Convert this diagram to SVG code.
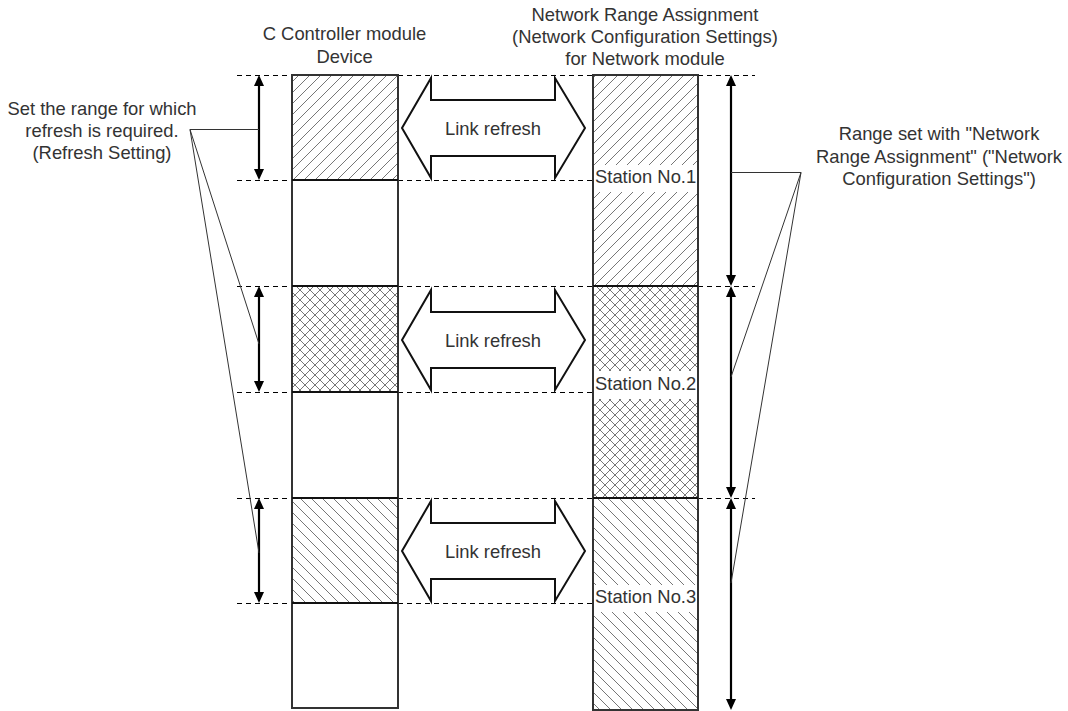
<svg xmlns="http://www.w3.org/2000/svg" width="1068" height="711" viewBox="0 0 1068 711">
<style>
text{font-family:"Liberation Sans",Arial,sans-serif;font-size:18.4px;fill:#333}
.c{text-anchor:middle}
.dash{stroke:#000;stroke-width:1;stroke-dasharray:5 4;fill:none}
.col{fill:none;stroke:#333;stroke-width:2}
.div{stroke:#111;stroke-width:2.2}
.dim{stroke:#000;stroke-width:2.2;fill:none;marker-start:url(#ah);marker-end:url(#ah)}
.lead{stroke:#333;stroke-width:1;fill:none}
.big{fill:#fff;stroke:#111;stroke-width:2;stroke-linejoin:miter}
.hl{stroke:#777;stroke-width:1;fill:none}
</style>
<defs>
<marker id="ah" viewBox="0 0 11 10" markerWidth="11" markerHeight="10" refX="3" refY="5" markerUnits="userSpaceOnUse" orient="auto-start-reverse">
<path d="M0,0 L11,5 L0,10 Z" fill="#000"/>
</marker>
<pattern id="hatchF" patternUnits="userSpaceOnUse" width="11" height="11">
<path class="hl" d="M-1,12 L12,-1 M-6,6 L6,-6 M5,17 L17,5"/>
</pattern>
<pattern id="hatchB" patternUnits="userSpaceOnUse" width="11" height="11">
<path class="hl" d="M-1,-1 L12,12 M5,-6 L17,6 M-6,5 L6,17"/>
</pattern>
<pattern id="hatchX" patternUnits="userSpaceOnUse" width="10" height="10">
<path class="hl" d="M-1,11 L11,-1 M-6,6 L6,-6 M4,16 L16,4 M-1,-1 L11,11 M4,-6 L16,6 M-6,4 L6,16"/>
</pattern>
</defs>

<g id="guides">
<path class="dash" d="M237,75.5 H292 M398,75.5 H593 M698,75.5 H755"/>
<path class="dash" d="M237,180.5 H292 M398,180.5 H593"/>
<path class="dash" d="M237,286.5 H292 M398,286.5 H593 M698,286.5 H755"/>
<path class="dash" d="M237,392.5 H292 M398,392.5 H593"/>
<path class="dash" d="M237,498.5 H292 M398,498.5 H593 M698,498.5 H755"/>
<path class="dash" d="M237,603.5 H292 M398,603.5 H593"/>
</g>

<g id="titles">
<text class="c" x="344.5" y="40">C Controller module</text>
<text class="c" x="344.5" y="63">Device</text>
<text class="c" x="645" y="21">Network Range Assignment</text>
<text class="c" x="645" y="43">(Network Configuration Settings)</text>
<text class="c" x="645" y="65">for Network module</text>
</g>

<g id="device-column">
<rect x="292" y="75" width="106" height="105" fill="url(#hatchF)"/>
<rect x="292" y="286" width="106" height="106" fill="url(#hatchX)"/>
<rect x="292" y="498" width="106" height="105" fill="url(#hatchB)"/>
<rect class="col" x="292" y="75" width="106" height="633"/>
<path class="div" d="M292,180 H398 M292,286 H398 M292,392 H398 M292,498 H398 M292,603 H398"/>
</g>

<g id="network-column">
<rect x="593" y="75" width="105" height="211" fill="url(#hatchF)"/>
<rect x="593" y="286" width="105" height="212" fill="url(#hatchX)"/>
<rect x="593" y="498" width="105" height="212" fill="url(#hatchB)"/>
<rect x="594" y="165" width="103" height="27" fill="#fff"/>
<rect x="594" y="371" width="103" height="28" fill="#fff"/>
<rect x="594" y="585" width="103" height="27" fill="#fff"/>
<rect class="col" x="593" y="75" width="105" height="635"/>
<path class="div" d="M593,286 H698 M593,498 H698"/>
<text x="595" y="183">Station No.1</text>
<text x="595" y="390">Station No.2</text>
<text x="595" y="603">Station No.3</text>
</g>

<g id="link-refresh-1">
<polygon class="big" points="402,128 431,78 431,100 555,100 555,78 585,128 555,178 555,156 431,156 431,178"/>
<text class="c" x="493" y="135">Link refresh</text>
</g>
<g id="link-refresh-2">
<polygon class="big" points="402,340 431,290 431,312 555,312 555,290 585,340 555,390 555,368 431,368 431,390"/>
<text class="c" x="493" y="347">Link refresh</text>
</g>
<g id="link-refresh-3">
<polygon class="big" points="402,551 431,501 431,523 555,523 555,501 585,551 555,601 555,579 431,579 431,601"/>
<text class="c" x="493" y="558">Link refresh</text>
</g>

<g id="note-refresh">
<text class="c" x="102" y="115">Set the range for which</text>
<text class="c" x="102" y="137">refresh is required.</text>
<text class="c" x="102" y="159">(Refresh Setting)</text>
</g>
<g id="note-range">
<text class="c" x="939" y="140">Range set with "Network</text>
<text class="c" x="939" y="163">Range Assignment" ("Network</text>
<text class="c" x="939" y="185">Configuration Settings")</text>
</g>

<g id="connectors">
<line class="dim" x1="259" y1="83" x2="259" y2="172"/>
<line class="dim" x1="259" y1="294" x2="259" y2="384"/>
<line class="dim" x1="259" y1="506" x2="259" y2="595"/>
<line class="dim" x1="731" y1="83" x2="731" y2="278"/>
<line class="dim" x1="731" y1="294" x2="731" y2="490"/>
<line class="dim" x1="731" y1="506" x2="731" y2="702"/>
<path class="lead" d="M259,129.5 H190 L259,344 M190,129.5 L259,553"/>
<path class="lead" d="M731,172.5 H801 L731,377 M801,172.5 L731,583"/>
</g>
</svg>
